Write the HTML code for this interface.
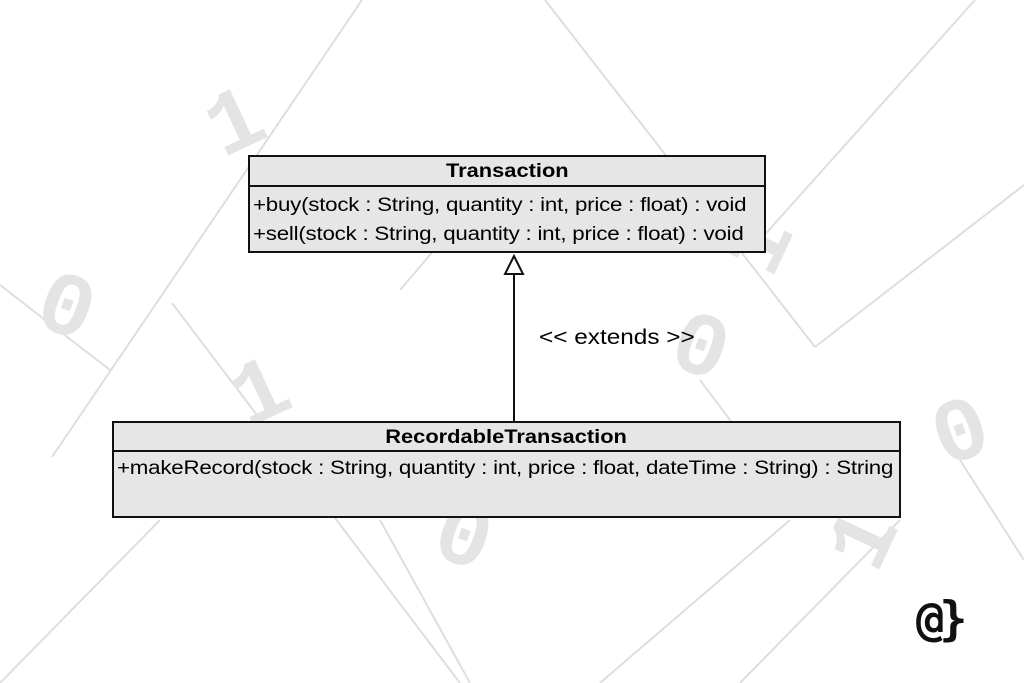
<!DOCTYPE html>
<html><head><meta charset="utf-8"><style>
html,body{margin:0;padding:0;background:#fff;}
body{width:1024px;height:683px;position:relative;overflow:hidden;font-family:"Liberation Sans",sans-serif;}
.box{position:absolute;background:#e6e6e6;border:2px solid #111;box-sizing:border-box;}
.hd{font-weight:bold;text-align:center;border-bottom:2px solid #111;box-sizing:border-box;font-size:19px;}
.hd span{display:inline-block;transform:scaleX(1.15);}
.op{font-size:19px;padding-left:3px;white-space:nowrap;letter-spacing:-0.2px;}
.op span{display:inline-block;transform:scaleX(1.175);transform-origin:left center;}
.d{position:absolute;font-family:"Liberation Mono",monospace;font-weight:bold;color:#e4e4e4;font-size:90px;}
</style></head><body>
<svg width="1024" height="683" style="position:absolute;left:0;top:0" stroke="#dedede" stroke-width="2" fill="none">
<line x1="362" y1="0" x2="52" y2="457"/>
<line x1="545" y1="0" x2="815" y2="347"/>
<line x1="815" y1="347" x2="1024" y2="185"/>
<line x1="975" y1="0" x2="760" y2="240"/>
<line x1="0" y1="285" x2="110" y2="370"/>
<line x1="172" y1="303" x2="460" y2="683"/>
<line x1="0" y1="683" x2="160" y2="520"/>
<line x1="380" y1="520" x2="470" y2="683"/>
<line x1="600" y1="683" x2="790" y2="520"/>
<line x1="740" y1="683" x2="900" y2="520"/>
<line x1="960" y1="460" x2="1024" y2="560"/>
<line x1="400" y1="290" x2="460" y2="220"/>
<line x1="700" y1="380" x2="760" y2="460"/>
</svg>
<div class="d" style="left:210px;top:75px;transform:rotate(-25deg)">1</div>
<div class="d" style="left:38px;top:260px;transform:rotate(20deg)">0</div>
<div class="d" style="left:235px;top:345px;transform:rotate(-25deg)">1</div>
<div class="d" style="left:672px;top:300px;transform:rotate(20deg)">0</div>
<div class="d" style="left:735px;top:195px;transform:rotate(-65deg)">1</div>
<div class="d" style="left:935px;top:385px;transform:rotate(-20deg)">0</div>
<div class="d" style="left:435px;top:490px;transform:rotate(20deg)">0</div>
<div class="d" style="left:840px;top:490px;transform:rotate(-65deg)">1</div>

<div class="box" style="left:248px;top:155px;width:518px;height:98px;">
<div class="hd" style="height:30px;line-height:30px;"><span>Transaction</span></div>
<div class="op" style="margin-top:3px;line-height:31px;"><span>+buy(stock : String, quantity : int, price : float) : void</span></div>
<div class="op" style="line-height:28px;"><span>+sell(stock : String, quantity : int, price : float) : void</span></div>
</div>
<svg width="1024" height="683" style="position:absolute;left:0;top:0">
<line x1="514" y1="274" x2="514" y2="422" stroke="#111" stroke-width="2"/>
<polygon points="514,256 505,274 523,274" fill="#fff" stroke="#111" stroke-width="2"/>
</svg>
<div style="position:absolute;left:539px;top:326px;font-size:21px;transform:scaleX(1.16);transform-origin:left center;">&lt;&lt; extends &gt;&gt;</div>
<div class="box" style="left:112px;top:421px;width:789px;height:97px;">
<div class="hd" style="height:29px;line-height:29px;"><span>RecordableTransaction</span></div>
<div class="op" style="line-height:34px;"><span>+makeRecord(stock : String, quantity : int, price : float, dateTime : String) : String</span></div>
</div>
<div style="position:absolute;left:916px;top:592px;font-family:'DejaVu Sans Mono',monospace;font-weight:bold;font-size:47px;color:#111;letter-spacing:-5px;">@}</div>
</body></html>
